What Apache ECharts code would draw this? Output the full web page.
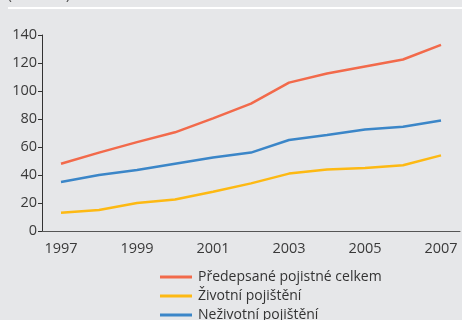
<!DOCTYPE html>
<html>
<head>
<meta charset="utf-8">
<script src="https://cdn.jsdelivr.net/npm/echarts@6/dist/echarts.min.js"></script>
<style>
  html, body { margin: 0; padding: 0; background: #e6e7e9; }
  #chart { width: 462px; height: 320px; }
</style>
</head>
<body>
<div id="chart"></div>
<script>
// roky
const years = ['1997', '1998', '1999', '2000', '2001', '2002', '2003', '2004', '2005', '2006', '2007'];
// hodnoty v mld. Kč
const celkem = [48, 56, 63.5, 70.5, 80.5, 91, 106, 112.5, 117.5, 122.5, 133];
const zivotni = [13, 15, 20, 22.5, 28, 34, 41, 44, 45, 47, 54];
const nezivotni = [35, 40, 43.5, 48, 52.5, 56, 65, 68.5, 72.5, 74.5, 79];
const seriesNames = ['Předepsané pojistné celkem', 'Životní pojištění', 'Neživotní pojištění'];
const colors = ['#f26a4b', '#fdb913', '#3b86c8'];

let mychart = echarts.init(document.getElementById('chart'));
const font = '"Open Sans", "Noto Sans", sans-serif';

let option = {
    backgroundColor: '#e6e7e9',
    animation: false,
    textStyle: { fontFamily: font },
    graphic: [
        {
            type: 'text', left: 8, top: -10,
            style: { text: '(v mld. Kč)', fontSize: 13, fill: '#444', fontFamily: font }
        },
        {
            type: 'rect', shape: { x: 8, y: 7, width: 454, height: 2 },
            style: { fill: '#ffffff' }
        }
    ],
    grid: { left: 42, right: 2, top: 35, bottom: 89 },
    legend: {
        orient: 'vertical',
        left: 160,
        top: 270,
        height: 120,
        padding: 0,
        itemWidth: 32,
        itemHeight: 3,
        itemGap: 5,
        icon: 'rect',
        textStyle: { fontSize: 14, color: '#333', fontFamily: font, padding: [0, 0, 0, 1] },
        data: seriesNames
    },
    xAxis: {
        type: 'category',
        data: years,
        boundaryGap: true,
        axisLine: { show: true, lineStyle: { color: '#555', width: 1 } },
        axisTick: { show: false },
        axisLabel: { interval: 1, color: '#3a3a3a', fontSize: 14.5, margin: 10, fontFamily: font }
    },
    yAxis: {
        type: 'value',
        min: 0,
        max: 140,
        interval: 20,
        axisLine: { show: true, lineStyle: { color: '#333', width: 1 } },
        axisTick: { show: true, length: 4, lineStyle: { color: '#333' } },
        axisLabel: { color: '#3a3a3a', fontSize: 14.5, margin: 5, fontFamily: font },
        splitLine: { show: false }
    },
    series: [
        { name: seriesNames[0], type: 'line', data: celkem, showSymbol: false, lineStyle: { width: 2.5, color: colors[0] }, itemStyle: { color: colors[0] } },
        { name: seriesNames[1], type: 'line', data: zivotni, showSymbol: false, lineStyle: { width: 2.5, color: colors[1] }, itemStyle: { color: colors[1] } },
        { name: seriesNames[2], type: 'line', data: nezivotni, showSymbol: false, lineStyle: { width: 2.5, color: colors[2] }, itemStyle: { color: colors[2] } }
    ]
};
mychart.setOption(option);
</script>
</body>
</html>
